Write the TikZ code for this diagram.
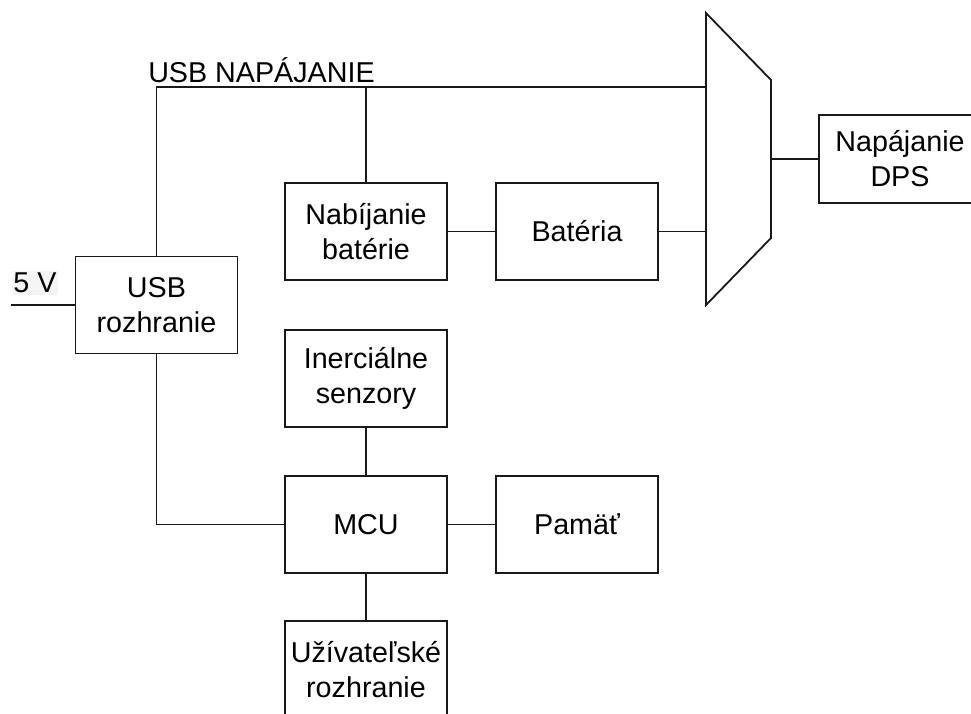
\documentclass[tikz,border=0pt]{standalone}
\usepackage{fontspec}
\setmainfont{Liberation Sans}
\begin{document}
\begin{tikzpicture}[x=1pt,y=-1pt,
  lw/.style={line width=1.8pt, draw=black!90},
  blk/.style={lw, rectangle, inner sep=0pt, minimum width=162pt, minimum height=97pt, align=center,
    font=\fontsize{28.7}{35}\selectfont},
  lbl/.style={inner sep=0pt, font=\fontsize{28.7}{35}\selectfont}]
\useasboundingbox (0,0) rectangle (971,713);
\node[blk] (usb) at (156.5,305) {USB\\rozhranie};
\node[blk] (nab) at (366,231.5) {Nabíjanie\\batérie};
\node[blk] (bat) at (577,231.5) {Batéria};
\node[blk, minimum height=88pt] (dps) at (900,159) {Napájanie\\DPS};
\node[blk] (ine) at (366,378.5) {Inerciálne\\senzory};
\node[blk] (mcu) at (366,524.5) {MCU};
\node[blk] (pam) at (577,524.5) {Pamäť};
\node[blk] (uzi) at (366,669.5) {Užívateľské\\rozhranie};
\node[lbl] (usbtxt) at (261.5,70) {USB NAPÁJANIE};
\node[lbl, fill=black!4, inner sep=1.5pt] (fivev) at (35,283) {5 V};
% multiplexer
\coordinate (m1) at (706,13);
\coordinate (m2) at (771,80);
\coordinate (m3) at (771,238);
\coordinate (m4) at (706,305);
\draw[lw] (m1) -- (m2) -- (m3) -- (m4) -- cycle;
\coordinate (muxa) at (706,87);
\coordinate (muxb) at (706,231.5);
\coordinate (muxo) at (771,159);
\coordinate (in5) at (11,305);
% connectors
\draw[lw] (usb.north) |- (muxa);
\draw[lw] (nab.north) -- (nab.north |- muxa);
\draw[lw] (nab) -- (bat);
\draw[lw] (bat) -- (muxb);
\draw[lw] (muxo) -- (dps);
\draw[lw] (in5) -- (usb.west);
\draw[lw] (usb.south) |- (mcu.west);
\draw[lw] (ine) -- (mcu);
\draw[lw] (mcu) -- (pam);
\draw[lw] (mcu) -- (uzi);
\end{tikzpicture}
\end{document}
